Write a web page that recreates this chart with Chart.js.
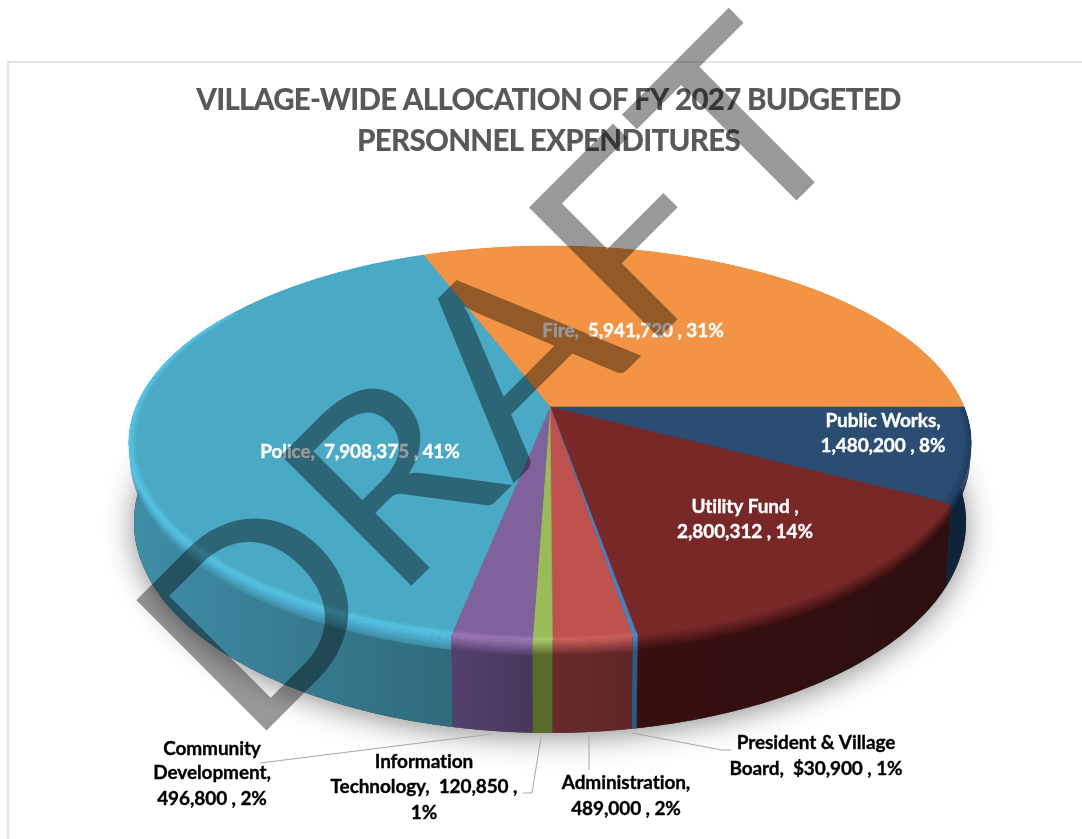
<!DOCTYPE html>
<html>
<head>
<meta charset="utf-8">
<title>Personnel Expenditures</title>
<script src="https://cdn.jsdelivr.net/npm/chart.js@4"></script>
<style>
    html, body { margin: 0; padding: 0; background: #ffffff; }
    canvas { display: block; }
</style>
</head>
<body>
<canvas id="budgetChart" width="1082" height="839"></canvas>
<script>
// Budget data
const departments = ['Fire', 'Public Works', 'Utility Fund', 'President & Village Board', 'Administration', 'Information Technology', 'Community Development', 'Police'];
const amounts = [5941720, 1480200, 2800312, 30900, 489000, 120850, 496800, 7908375];
const percents = [31, 8, 14, 1, 2, 1, 2, 41];

// Slice colours: top face, rim highlight, wall at left and wall at right
const topColors = ['#f39445', '#2b4d74', '#772827', '#4a80bd', '#be504d', '#9bbb59', '#7f619b', '#4aa9c4'];
const rimColors = ['#f39445', '#1f3d60', '#772827', '#4f8ac8', '#c9605c', '#a9c66c', '#9a78b6', '#58c4e6'];
const wallLeft = ['#8a5020', '#10233a', '#380f0f', '#2b5a85', '#6a2a2a', '#5a6b2e', '#54406e', '#3f8da8'];
const wallRight = ['#8a5020', '#10233a', '#2c0f0f', '#2b5a85', '#5e2626', '#5a6b2e', '#48365a', '#2f6b7b'];

// Perspective of the disc: circle angle -> screen position
const apexX = 550, apexY = 407;
const discA = 414, discB = 190.4, discK = 0.1827;
const depthY = 76.6, bottomScaleX = 0.988, bottomScaleY = 1.07;

function topPoint(angle, r = 1) {
    const c = Math.cos(angle) * r, s = Math.sin(angle) * r;
    const w = 1 - discK * s;
    return [apexX + discA * c / w, apexY + discB * s / w];
}

function bottomPoint(angle) {
    const p = topPoint(angle);
    return [apexX + (p[0] - apexX) * bottomScaleX, apexY + depthY + (p[1] - apexY) * bottomScaleY];
}

function wallPoint(angle, u) {
    const a = topPoint(angle), b = bottomPoint(angle);
    return [a[0] + (b[0] - a[0]) * u, a[1] + (b[1] - a[1]) * u];
}

function arcAngles(arc) {
    const list = [];
    const steps = Math.max(2, Math.ceil((arc.endAngle - arc.startAngle) / 0.01));
    for (let i = 0; i <= steps; i++) {
        list.push(arc.startAngle + (arc.endAngle - arc.startAngle) * i / steps);
    }
    return list;
}

function tracePoints(ctx, points) {
    ctx.beginPath();
    points.forEach((p, i) => i ? ctx.lineTo(p[0], p[1]) : ctx.moveTo(p[0], p[1]));
    ctx.closePath();
}

function mixColor(a, b, t) {
    const parse = h => [1, 3, 5].map(i => parseInt(h.substr(i, 2), 16));
    const ca = parse(a), cb = parse(b);
    return `rgb(${ca.map((v, i) => Math.round(v + (cb[i] - v) * t)).join(',')})`;
}

// Draws the disc from the arc angles that the pie controller worked out
const discPlugin = {
    id: 'disc',
    beforeDatasetsDraw(chart) {
        const ctx = chart.ctx;
        const arcs = chart.getDatasetMeta(0).data;
        ctx.save();

        // Soft shadow under the whole body
        const outline = [];
        for (let i = 0; i <= 360; i++) {
            outline.push(bottomPoint(i * Math.PI / 180));
        }
        ctx.shadowColor = 'rgba(0,0,0,0.45)';
        ctx.shadowBlur = 30;
        ctx.shadowOffsetY = 4;
        ctx.fillStyle = '#333333';
        tracePoints(ctx, outline);
        ctx.fill();
        ctx.shadowColor = 'transparent';

        // Walls, far slices first
        const order = arcs.map((a, i) => i).sort((m, n) => {
            const mid = a => Math.sin((a.startAngle + a.endAngle) / 2);
            return mid(arcs[m]) - mid(arcs[n]);
        });
        order.forEach(i => {
            const angles = arcAngles(arcs[i]);
            const pts = angles.map(a => topPoint(a)).concat(angles.slice().reverse().map(a => bottomPoint(a)));
            const xs = pts.map(p => p[0]);
            const grad = ctx.createLinearGradient(Math.min(...xs), 0, Math.max(...xs), 0);
            grad.addColorStop(0, wallLeft[i]);
            grad.addColorStop(1, wallRight[i]);
            ctx.fillStyle = grad;
            tracePoints(ctx, pts);
            ctx.fill();

            // Bevel blending rim into wall, each strip painted over the one before
            const bands = 14;
            const reversed = angles.slice().reverse();
            for (let b = bands - 1; b >= 0; b--) {
                const u0 = 0.16 * b / bands;
                const strip = angles.map(a => wallPoint(a, u0)).concat(reversed.map(a => wallPoint(a, u0 + 0.16 / bands + 0.006)));
                ctx.fillStyle = mixColor(rimColors[i], wallLeft[i], (b + 1) / bands);
                tracePoints(ctx, strip);
                ctx.fill();
            }
        });

        // Top faces
        arcs.forEach((arc, i) => {
            const pts = [[apexX, apexY]].concat(arcAngles(arc).map(a => topPoint(a)));
            ctx.fillStyle = topColors[i];
            ctx.strokeStyle = topColors[i];
            ctx.lineWidth = 0.6;
            tracePoints(ctx, pts);
            ctx.fill();
            ctx.stroke();
        });

        // Thin highlight inside the rim
        arcs.forEach((arc, i) => {
            if (topColors[i] === rimColors[i]) return;
            const angles = arcAngles(arc).filter(a => Math.sin(a) > -0.55);
            if (angles.length < 2) return;
            const reversed = angles.slice().reverse();
            const bands = 6;
            for (let b = 0; b < bands; b++) {
                const r0 = 0.983 + 0.017 * b / bands;
                const strip = angles.map(a => topPoint(a, r0)).concat(reversed.map(a => topPoint(a, 1)));
                ctx.fillStyle = mixColor(topColors[i], rimColors[i], (b + 1) / bands);
                tracePoints(ctx, strip);
                ctx.fill();
            }
        });

        ctx.restore();
        return false;
    }
};

function amountText(i) {
    return `${amounts[i].toLocaleString('en-US')} , ${percents[i]}%`;
}

// Slice labels placed by hand, the way they sit on the sheet
const labelBlocks = [
    { color: '#ffffff', x: 633, y: [331], lines: [`${departments[0]},  ${amountText(0)}`] },
    { color: '#ffffff', x: 883, y: [421, 446], lines: ['Public Works,', amountText(1)] },
    { color: '#ffffff', x: 745, y: [507, 532], lines: ['Utility Fund ,', amountText(2)] },
    { color: '#ffffff', x: 360, y: [452], lines: [`${departments[7]},  ${amountText(7)}`] },
    { color: '#000000', x: 816, y: [743, 769], lines: ['President & Village', `Board,  $${amountText(3)}`] },
    { color: '#000000', x: 626, y: [783, 809], lines: ['Administration,', amountText(4)] },
    { color: '#000000', x: 424, y: [762, 787, 813], lines: ['Information', `Technology,  ${amounts[5].toLocaleString('en-US')} ,`, `${percents[5]}%`] },
    { color: '#000000', x: 212, y: [749, 773, 799], lines: ['Community', 'Development,', amountText(6)] }
];

const leaderLines = [
    [[492, 734], [260, 763]],
    [[541, 737], [532, 793], [523, 793]],
    [[589, 735], [589, 770]],
    [[632, 733], [722, 750], [731, 750]]
];

const sheetPlugin = {
    id: 'sheet',
    beforeDraw(chart) {
        const ctx = chart.ctx;
        ctx.save();
        ctx.strokeStyle = '#d9d9d9';
        ctx.lineWidth = 1.5;
        ctx.strokeRect(8, 62, 1200, 900);
        ctx.restore();
        // Lato runs wider than the sheet's font
        ctx.letterSpacing = '-0.7px';
    },
    afterDraw(chart) {
        const ctx = chart.ctx;
        ctx.save();
        ctx.letterSpacing = '-0.1px';

        ctx.strokeStyle = '#a6a6a6';
        ctx.lineWidth = 1;
        leaderLines.forEach(line => {
            ctx.beginPath();
            line.forEach((p, i) => i ? ctx.lineTo(p[0], p[1]) : ctx.moveTo(p[0], p[1]));
            ctx.stroke();
        });

        ctx.font = 'bold 19px Lato';
        ctx.textAlign = 'center';
        ctx.textBaseline = 'middle';
        ctx.lineWidth = 0.35;
        labelBlocks.forEach(block => {
            ctx.fillStyle = block.color;
            ctx.strokeStyle = block.color;
            block.lines.forEach((line, i) => {
                ctx.fillText(line, block.x, block.y[i]);
                ctx.strokeText(line, block.x, block.y[i]);
            });
        });

        // DRAFT stamp across the sheet
        ctx.letterSpacing = '0px';
        ctx.font = '257px Lato';
        ctx.textAlign = 'left';
        ctx.textBaseline = 'alphabetic';
        ctx.fillStyle = 'rgba(0,0,0,0.4)';
        const m = ctx.measureText('DRAFT');
        const inkWidth = m.actualBoundingBoxRight + m.actualBoundingBoxLeft;
        ctx.translate(264, 733);
        ctx.rotate(-Math.PI / 4);
        ctx.scale(842 / inkWidth, 1);
        ctx.fillText('DRAFT', m.actualBoundingBoxLeft, 0);
        ctx.restore();
    }
};

const budgetChart = new Chart(document.getElementById('budgetChart').getContext('2d'), {
    type: 'pie',
    data: {
        labels: departments,
        datasets: [{ data: amounts, backgroundColor: topColors, borderWidth: 0 }]
    },
    options: {
        responsive: false,
        animation: false,
        // Fire ends exactly on the three o'clock line
        rotation: -20.98,
        layout: { padding: { left: 15, top: 80 } },
        plugins: {
            legend: { display: false },
            tooltip: { enabled: false },
            title: {
                display: true,
                text: ['VILLAGE-WIDE ALLOCATION OF FY 2027 BUDGETED', 'PERSONNEL EXPENDITURES'],
                color: '#595959',
                font: { family: 'Lato', size: 29.5, weight: '900', lineHeight: 1.39 },
                padding: 0
            }
        }
    },
    plugins: [discPlugin, sheetPlugin]
});
</script>
</body>
</html>
